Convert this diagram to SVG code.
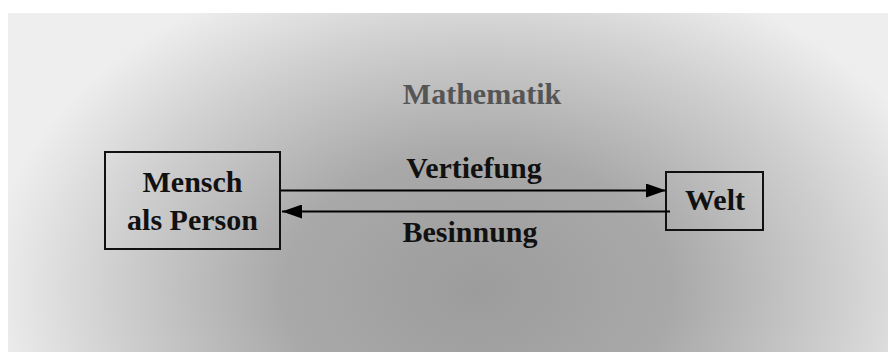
<svg xmlns="http://www.w3.org/2000/svg" width="888" height="352" viewBox="0 0 888 352">
  <defs>
    <radialGradient id="bg" gradientUnits="userSpaceOnUse" cx="478" cy="290" r="490" gradientTransform="translate(478 290) scale(1 0.7) translate(-478 -290)">
      <stop offset="0" stop-color="#9c9c9c"/>
      <stop offset="0.4" stop-color="#a9a9a9"/>
      <stop offset="0.75" stop-color="#d0d0d0"/>
      <stop offset="1" stop-color="#eeeeee"/>
    </radialGradient>
    <marker id="head" viewBox="0 0 20 14" refX="20" refY="7" markerWidth="20" markerHeight="14" markerUnits="userSpaceOnUse" orient="auto">
      <path d="M0,0 L20,7 L0,14 Z" fill="#000"/>
    </marker>
    <style>
      .box { fill: none; stroke: #111; stroke-width: 2; }
      .lbl { font-family: "Liberation Serif", "Times New Roman", serif; font-weight: bold; font-size: 30px; fill: #111; text-anchor: middle; }
      .title { fill: #555; }
      .edge { stroke: #000; stroke-width: 2; fill: none; marker-end: url(#head); }
    </style>
  </defs>

  <rect width="888" height="352" fill="#fff"/>
  <rect x="8" y="13" width="880" height="339" fill="url(#bg)"/>

  <text class="lbl title" x="482" y="104">Mathematik</text>

  <g id="mensch">
    <rect class="box" x="105" y="152" width="175" height="97"/>
    <text class="lbl" x="192.5" y="192">Mensch</text>
    <text class="lbl" x="192.5" y="230">als Person</text>
  </g>

  <g id="welt">
    <rect class="box" x="666" y="172" width="97" height="58"/>
    <text class="lbl" x="715" y="210">Welt</text>
  </g>

  <g id="connectors">
    <line class="edge" x1="281" y1="190.5" x2="666" y2="190.5"/>
    <text class="lbl" x="474" y="178">Vertiefung</text>
    <line class="edge" x1="670" y1="211.5" x2="282" y2="211.5"/>
    <text class="lbl" x="470" y="242">Besinnung</text>
  </g>
</svg>
